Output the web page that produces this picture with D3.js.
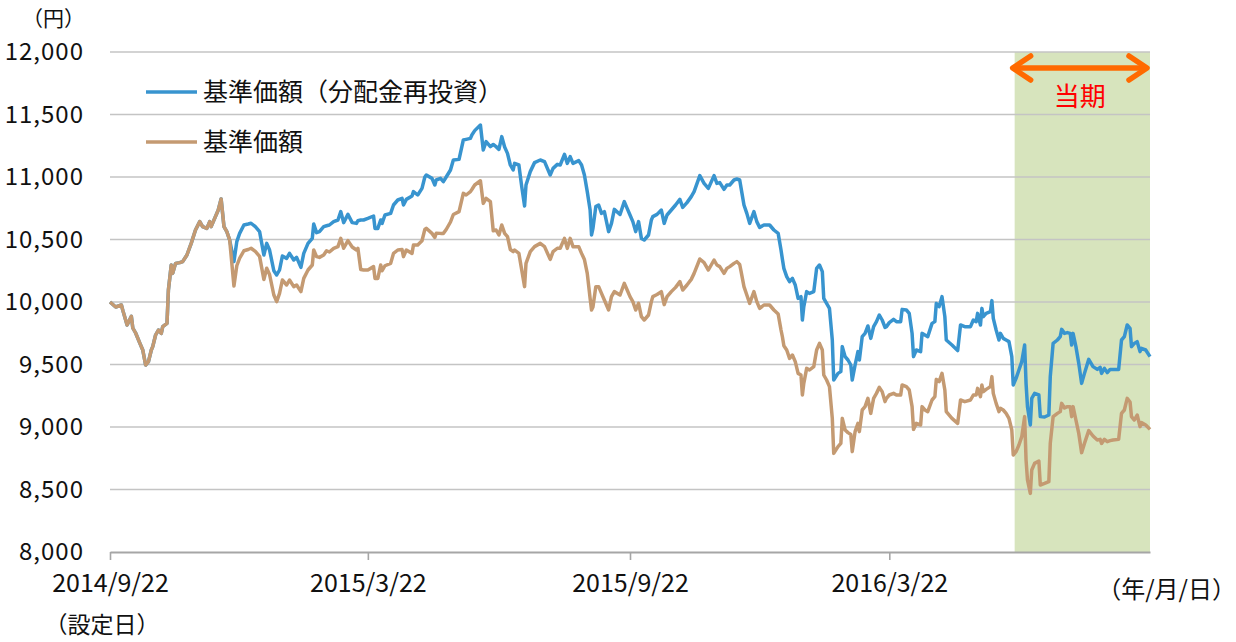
<!DOCTYPE html>
<html><head><meta charset="utf-8">
<script src="https://cdn.jsdelivr.net/npm/d3@7"></script>
<style>
body{margin:0;background:#fff}
svg text{font-family:"Noto Sans CJK JP","Noto Sans",sans-serif;fill:#111}
</style>
</head><body>
<svg id="chart" width="1236" height="642"></svg>
<script>
// ---- data ----
const launchDate = "2014-09-22";
const endDate = "2016-09-21";
const periodStart = "2016-06-18";
const periodLabel = "当期";
const unitLabel = "（円）";
const dateUnitLabel = "（年/月/日）";
const launchNote = "（設定日）";
const seriesNames = ["基準価額（分配金再投資）", "基準価額"];
const yTicks = [8000, 8500, 9000, 9500, 10000, 10500, 11000, 11500, 12000];
const xTickDates = ["2014-09-22", "2015-03-22", "2015-09-22", "2016-03-22"];
const xTickLabels = ["2014/9/22", "2015/3/22", "2015/9/22", "2016/3/22"];

// days elapsed since the launch date
const elapsedDays = [
0,4,8,9,12,15,16,18,21,23,25,27,29,30,32,34,36,37,40,41,43,44,46,49,51,54,57,60,63,65,68,70,71,74,76,78,80,82,84,
87,89,91,94,97,99,102,105,108,110,112,115,117,119,121,124,126,129,131,134,136,139,142,143,145,147,150,152,154,157,160,162,164,167,170,173,174,176,
178,181,185,186,188,190,191,193,197,199,202,205,206,208,212,213,216,219,221,222,226,228,229,232,234,236,239,241,245,248,250,253,254,256,260,262,264,267,269,271,273,275,277,279,281,283,284,287,289,291,292,295,298,302,305,309,311,314,316,319,321,323,325,329,331,333,335,337,338,339,341,343,345,347,350,352,354,358,361,
363,365,367,369,371,373,375,378,380,381,384,387,389,391,394,397,400,402,405,408,410,414,417,420,424,426,428,431,433,435,438,440,442,443,445,447,449,452,454,456,459,463,466,469,471,472,473,475,477,479,481,483,485,486,487,489,491,494,496,498,500,501,503,505,507,508,511,513,514,516,518,520,521,523,525,526,528,530,532,534,536,538,540,542,544,
545,547,550,552,555,556,559,561,563,564,566,569,570,572,574,577,579,580,582,584,586,587,591,595,597,600,604,606,608,609,611,612,613,615,618,619,620,622,624,625,627,629,631,633,634,636,638,640,642,643,644,646,647,649,652,653,656,659,660,662,665,667,668,670,672,674,675,676,678,680,682,684,687,690,693,695,696,698,700,702,704,708,710,712,714,716,717,719,721,723,724,727,730
];

// 基準価額（分配金再投資）
const navReinvested = [
10000,9960,9976,9933,9816,9885,9792,9752,9669,9616,9496,9523,9616,9643,9736,9776,9749,9803,9829,10096,10296,10229,10309,10315,10323,10376,10469,10576,10643,10603,10589,10643,10603,10683,10736,10824,10603,10563,10496,
10323,10483,10549,10616,10624,10630,10603,10563,10376,10469,10416,10250,10216,10256,10368,10349,10389,10336,10357,10277,10389,10469,10509,10624,10555,10563,10603,10610,10616,10643,10656,10723,10635,10701,10635,10629,10650,10656,
10656,10669,10688,10589,10589,10656,10629,10696,10709,10776,10816,10829,10776,10821,10848,10883,10856,10909,11000,11016,10989,10936,10976,10989,10963,11000,11056,11136,11141,11296,11301,11309,11336,11371,11416,11216,11283,11243,11260,11243,11221,11323,11240,11189,11096,11056,11109,11096,10923,10768,10936,11043,11115,11136,11123,11016,11069,11101,11096,11181,11109,11163,11109,11131,11096,11016,10883,10736,10536,10589,10763,10776,10709,10723,10563,10629,10741,10700,10803,
10749,10696,10643,10563,10643,10509,10496,10536,10656,10683,10701,10736,10629,10696,10736,10776,10821,10757,10795,10843,10883,11011,10949,10909,11011,10949,10955,10901,10936,10936,10976,10984,10976,10909,10776,10709,10629,10723,10643,10597,10616,10616,10576,10549,10416,10340,10269,10203,10163,10189,10136,10029,10043,9856,9963,10083,10069,10083,10269,10296,10243,10029,9989,9949,9696,9376,9429,9443,9643,9563,9536,9496,9376,9496,9603,9536,9723,9749,9808,9709,9803,9843,9896,9856,9797,
9803,9835,9861,9843,9843,9941,9936,9909,9749,9563,9616,9603,9749,9736,9723,9829,9843,9989,9963,10043,9883,9696,9656,9611,9816,9803,9803,9856,9843,9909,9816,9949,9883,9909,9923,10011,9869,9776,9696,9749,9709,9696,9683,9563,9336,9389,9456,9523,9656,9349,9163,9016,9229,9269,9256,9083,9080,9096,9403,9669,9696,9723,9781,9749,9755,9749,9656,9749,9643,9509,9349,9429,9541,9483,9461,9477,9429,9469,9435,9461,9461,9461,9696,9723,9816,9789,9643,9669,9683,9603,9629,9616,9563
];

// 基準価額
const nav = [
10000,9960,9976,9933,9816,9885,9792,9752,9669,9616,9496,9523,9616,9643,9736,9776,9749,9803,9829,10096,10296,10229,10309,10315,10323,10376,10469,10576,10643,10603,10589,10643,10603,10683,10736,10824,10603,10563,10496,
10128,10290,10350,10410,10420,10430,10405,10365,10180,10270,10220,10056,10003,10069,10176,10136,10176,10123,10136,10083,10189,10256,10296,10416,10363,10357,10376,10410,10400,10429,10443,10509,10430,10491,10440,10416,10430,10260,
10256,10256,10283,10189,10189,10296,10250,10290,10309,10389,10416,10420,10363,10416,10389,10456,10456,10490,10581,10590,10549,10517,10550,10549,10549,10580,10640,10700,10723,10869,10856,10883,10900,10936,10970,10789,10829,10803,10570,10576,10536,10616,10549,10523,10420,10403,10416,10389,10256,10123,10309,10403,10443,10469,10443,10341,10403,10430,10430,10509,10429,10509,10443,10443,10389,10340,10229,10029,9936,9960,10123,10123,10069,10016,9936,10043,10083,10056,10149,
10096,10043,10003,9936,9989,9883,9856,9896,10003,10043,10060,10083,9979,10043,10083,10117,10163,10096,10136,10181,10229,10344,10315,10256,10336,10296,10283,10229,10269,10283,10309,10323,10300,10243,10123,10056,9989,10083,10003,9949,9976,9976,9936,9904,9776,9720,9650,9616,9549,9576,9523,9429,9416,9256,9349,9469,9456,9483,9616,9669,9616,9416,9376,9323,9069,8789,8843,8869,9069,8976,8955,8940,8803,8963,9029,8963,9136,9163,9229,9109,9229,9269,9317,9283,9203,
9229,9256,9269,9256,9256,9336,9323,9296,9163,8981,9029,9016,9163,9136,9123,9216,9243,9381,9363,9429,9296,9123,9069,9029,9216,9203,9216,9256,9256,9309,9243,9336,9283,9301,9323,9403,9269,9189,9123,9149,9136,9109,9069,8976,8776,8803,8856,8923,9083,8736,8576,8469,8656,8709,8728,8536,8549,8563,8869,9083,9109,9123,9189,9152,9163,9163,9083,9163,9056,8949,8795,8869,8971,8928,8896,8901,8869,8901,8883,8891,8896,8901,9109,9136,9229,9200,9083,9056,9096,9003,9035,9016,8981
];

// ---- drawing ----
const FONT = '"Noto Sans CJK JP","Noto Sans",sans-serif';
const parse = d3.timeParse("%Y-%m-%d");
const base = parse(launchDate);
const dates = elapsedDays.map(n => d3.timeDay.offset(base, n));

const svg = d3.select("#chart");
const x = d3.scaleTime().domain([base, parse(endDate)]).range([110, 1150]);
const y = d3.scaleLinear().domain([8000, 12000]).range([552, 52]);

// current period shading
svg.append("rect")
  .attr("x", x(parse(periodStart))).attr("y", y(12000))
  .attr("width", x(parse(endDate)) - x(parse(periodStart)))
  .attr("height", y(8000) - y(12000))
  .attr("fill", "#d7e4bd");

// gridlines
svg.append("g").selectAll("line").data(yTicks.filter(v => v > 8000)).join("line")
  .attr("x1", x.range()[0]).attr("x2", x.range()[1])
  .attr("y1", d => y(d)).attr("y2", d => y(d))
  .attr("stroke", "#c4c4c4").attr("stroke-width", 1.6);

// y axis labels
const yAxis = svg.append("g").attr("transform", `translate(${x.range()[0]},0)`)
  .call(d3.axisLeft(y).tickValues(yTicks).tickFormat(d3.format(",")).tickSize(0).tickPadding(26));
yAxis.select(".domain").remove();
yAxis.selectAll("text").attr("font-size", 24).attr("fill", "#111")
  .style("letter-spacing", "1px").style("font-family", FONT);

// x axis
const xAxis = svg.append("g").attr("transform", `translate(0,${y(8000)})`)
  .call(d3.axisBottom(x).tickValues(xTickDates.map(parse))
    .tickFormat((d, i) => xTickLabels[i]).tickSize(8).tickSizeOuter(0).tickPadding(14));
xAxis.select(".domain").attr("stroke", "#a6a6a6").attr("stroke-width", 2);
xAxis.selectAll(".tick line").attr("stroke", "#a6a6a6").attr("stroke-width", 1.6);
xAxis.selectAll("text").attr("font-size", 25).attr("fill", "#111")
  .style("font-family", FONT);

// lines
const line = vals => d3.line().x((d, i) => x(dates[i])).y(d => y(d)).curve(d3.curveLinear)(vals);
svg.append("path").attr("d", line(navReinvested)).attr("fill", "none")
  .attr("stroke", "#3894cf").attr("stroke-width", 3.5).attr("stroke-linejoin", "round");
svg.append("path").attr("d", line(nav)).attr("fill", "none")
  .attr("stroke", "#c49a72").attr("stroke-width", 3.5).attr("stroke-linejoin", "round");

// legend
const legendColors = ["#3894cf", "#c49a72"];
const lg = svg.append("g");
seriesNames.forEach((name, i) => {
  const ly = 92 + i * 50;
  lg.append("line").attr("x1", 146).attr("x2", 197).attr("y1", ly).attr("y2", ly)
    .attr("stroke", legendColors[i]).attr("stroke-width", 3.5);
  lg.append("text").attr("x", 203).attr("y", ly).attr("dy", "0.36em")
    .attr("font-size", 25).text(name);
});

// period arrow
const ax0 = x(parse(periodStart)) - 2, ax1 = x(parse(endDate)) - 3, ay = 68;
const arrow = svg.append("g").attr("stroke", "#ff6a00").attr("stroke-width", 5.5)
  .attr("fill", "none").attr("stroke-linecap", "round").attr("stroke-linejoin", "round");
arrow.append("line").attr("x1", ax0 + 2).attr("x2", ax1 - 2).attr("y1", ay).attr("y2", ay);
arrow.append("polyline").attr("points", `${ax0 + 18},${ay - 12} ${ax0},${ay} ${ax0 + 18},${ay + 12}`);
arrow.append("polyline").attr("points", `${ax1 - 18},${ay - 12} ${ax1},${ay} ${ax1 - 18},${ay + 12}`);
svg.append("text").attr("x", (ax0 + ax1) / 2).attr("y", 106).attr("text-anchor", "middle")
  .attr("font-size", 26).style("fill", "#ff0000").text(periodLabel);

// other labels
svg.append("text").attr("x", 22).attr("y", 26).attr("font-size", 21).text(unitLabel);
svg.append("text").attr("x", 102).attr("y", 633).attr("text-anchor", "middle").attr("font-size", 23).text(launchNote);
svg.append("text").attr("x", 1236).attr("y", 598).attr("text-anchor", "end").attr("font-size", 24).text(dateUnitLabel);
</script>
</body></html>
